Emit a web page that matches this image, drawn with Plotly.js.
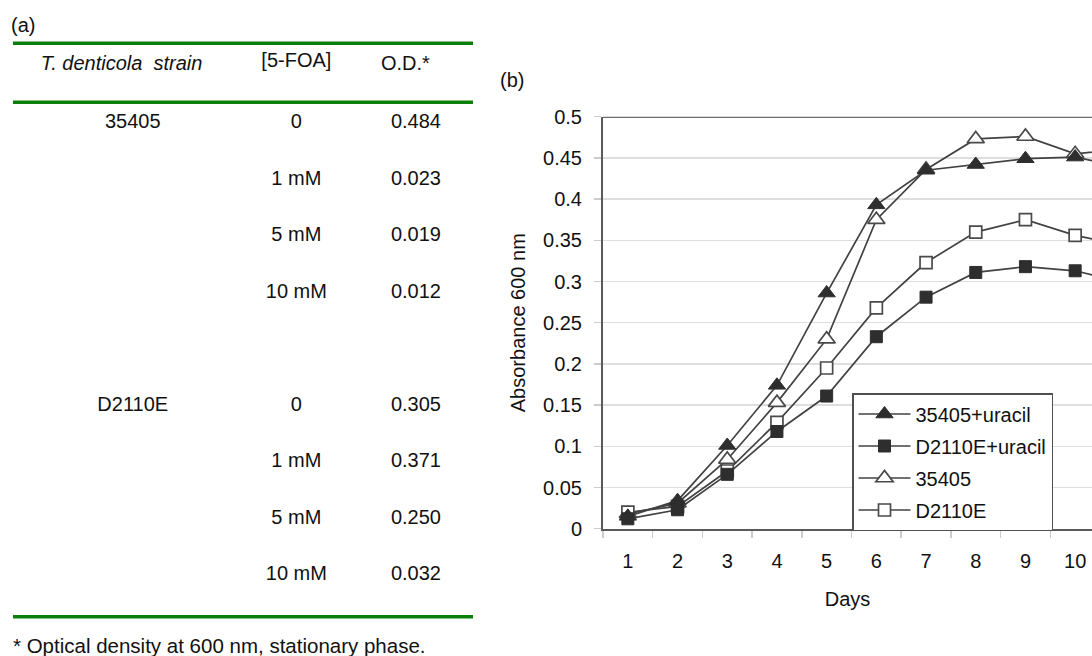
<!DOCTYPE html>
<html>
<head>
<meta charset="utf-8">
<script src="https://cdn.plot.ly/plotly-3.0.1.min.js"></script>
<style>
  html, body { margin: 0; padding: 0; background: #fff; }
  #chart { width: 1092px; height: 656px; }
</style>
</head>
<body>
<div id="chart"></div>
<script>
// ---- Panel (a) table data ----
const tableHeader = ['<i>T. denticola  strain</i>&nbsp;&nbsp;&nbsp;&nbsp;', '[5-FOA]', 'O.D.*&nbsp;&nbsp;'];
const strainCol = ['35405', '', '', '', '', 'D2110E', '', '', ''];
const foaCol = ['0', '1 mM', '5 mM', '10 mM', '', '0', '1 mM', '5 mM', '10 mM'];
const odCol = ['0.484', '0.023', '0.019', '0.012', '', '0.305', '0.371', '0.250', '0.032'];
const footnote = '* Optical density at 600 nm, stationary phase.';

// ---- Panel (b) growth curves ----
const days = [1, 2, 3, 4, 5, 6, 7, 8, 9, 10, 11];
const seriesNames = ['35405+uracil', 'D2110E+uracil', '35405', 'D2110E'];
const uracil35405 = [0.015, 0.034, 0.101, 0.174, 0.286, 0.393, 0.435, 0.442, 0.449, 0.451, 0.438];
const uracilD2110E = [0.012, 0.023, 0.066, 0.118, 0.161, 0.233, 0.281, 0.311, 0.318, 0.313, 0.298];
const plain35405 = [0.018, 0.031, 0.084, 0.153, 0.230, 0.375, 0.436, 0.473, 0.476, 0.455, 0.461];
const plainD2110E = [0.020, 0.027, 0.070, 0.129, 0.195, 0.268, 0.323, 0.360, 0.375, 0.356, 0.343];

const W = 1092, H = 656;
const FONT = 'Liberation Sans, Arial, Helvetica, sans-serif';
const px = v => v / W;
const py = v => 1 - v / H;

const lineColor = '#424242';
const markDark = '#2e2e2e';

function series(name, y, symbol, filled, size, rank) {
  return {
    type: 'scatter', mode: 'lines+markers', name: name,
    x: days.map(String), y: y,
    xaxis: 'x', yaxis: 'y',
    legendrank: rank, legendgroup: 'g' + rank,
    line: { color: lineColor, width: 1.7 },
    marker: {
      symbol: symbol, size: size,
      color: filled ? markDark : '#ffffff',
      line: { color: filled ? markDark : '#4a4a4a', width: filled ? 1 : 1.7 }
    },
    cliponaxis: true
  };
}

const headerH = 61.3, cellH = 56.5;
const tableTop = 44;
const tableBottom = tableTop + headerH + strainCol.length * cellH;

const data = [
  {
    type: 'table',
    domain: { x: [px(13), px(450)], y: [py(tableBottom), py(tableTop)] },
    columnwidth: [240, 88, 109],
    header: {
      values: tableHeader,
      align: ['center', 'center', 'right'],
      height: headerH,
      fill: { color: 'rgba(0,0,0,0)' },
      line: { width: 0, color: 'rgba(0,0,0,0)' },
      font: { family: FONT, size: 20, color: '#111' }
    },
    cells: {
      values: [strainCol, foaCol, odCol],
      align: ['center', 'center', 'right'],
      height: cellH,
      fill: { color: 'rgba(0,0,0,0)' },
      line: { width: 0, color: 'rgba(0,0,0,0)' },
      font: { family: FONT, size: 20, color: '#111' }
    }
  },
  series(seriesNames[2], plain35405, 'triangle-up', false, 15, 3),
  series(seriesNames[3], plainD2110E, 'square', false, 12, 4),
  series(seriesNames[0], uracil35405, 'triangle-up', true, 15, 1),
  series(seriesNames[1], uracilD2110E, 'square', true, 12, 2)
];

const catWidth = 49.7;
const plotLeft = 603, plotRight = 1092;
const nVisible = (plotRight - plotLeft) / catWidth;

const layout = {
  width: W, height: H,
  margin: { l: 0, r: 0, t: 0, b: 0, pad: 0 },
  paper_bgcolor: '#ffffff', plot_bgcolor: '#ffffff',
  font: { family: FONT, size: 20, color: '#111' },
  showlegend: true,
  xaxis: {
    domain: [px(plotLeft), 1],
    type: 'category',
    range: [-0.5, -0.5 + nVisible],
    tickson: 'boundaries',
    ticks: 'outside', ticklen: 7, tickwidth: 1.5, tickcolor: '#cccccc',
    ticklabelstandoff: 13,
    showgrid: false, zeroline: false,
    showline: true, linecolor: '#5a5a5a', linewidth: 2,
    tickfont: { family: FONT, size: 20, color: '#111' },
    title: { text: 'Days', standoff: 21, font: { family: FONT, size: 20, color: '#111' } },
    automargin: false, fixedrange: true
  },
  yaxis: {
    domain: [py(528.7), py(116.7)],
    range: [0, 0.5],
    tick0: 0, dtick: 0.05,
    ticks: 'outside', ticklen: 7, tickwidth: 1.5, tickcolor: '#cccccc',
    ticklabelstandoff: 8,
    showgrid: true, gridcolor: '#dedede', gridwidth: 1.5,
    zeroline: false,
    showline: true, linecolor: '#5a5a5a', linewidth: 2,
    tickfont: { family: FONT, size: 20, color: '#111' },
    title: { text: 'Absorbance 600 nm', standoff: 12, font: { family: FONT, size: 20, color: '#111' } },
    automargin: false, fixedrange: true
  },
  legend: {
    x: px(852), y: py(393), xanchor: 'left', yanchor: 'top',
    bgcolor: '#ffffff', bordercolor: '#505050', borderwidth: 1.5,
    font: { family: FONT, size: 20, color: '#111' },
    tracegroupgap: 3, itemwidth: 52,
    traceorder: 'grouped'
  },
  shapes: [
    { type: 'line', xref: 'paper', yref: 'y', x0: px(plotLeft), x1: 1, y0: 0.5, y1: 0.5,
      line: { color: '#6e6e6e', width: 2.5 } },
    { type: 'line', xref: 'paper', yref: 'paper', x0: px(13), x1: px(473), y0: py(43.3), y1: py(43.3),
      line: { color: '#0a7f0a', width: 3.5 } },
    { type: 'line', xref: 'paper', yref: 'paper', x0: px(13), x1: px(473), y0: py(102.3), y1: py(102.3),
      line: { color: '#0a7f0a', width: 3.5 } },
    { type: 'line', xref: 'paper', yref: 'paper', x0: px(13), x1: px(473), y0: py(616.7), y1: py(616.7),
      line: { color: '#0a7f0a', width: 3.5 } }
  ],
  annotations: [
    { xref: 'paper', yref: 'paper', x: px(9), y: py(25), xanchor: 'left', yanchor: 'middle',
      text: '(a)', showarrow: false, font: { family: FONT, size: 20, color: '#111' } },
    { xref: 'paper', yref: 'paper', x: px(498), y: py(80), xanchor: 'left', yanchor: 'middle',
      text: '(b)', showarrow: false, font: { family: FONT, size: 20, color: '#111' } },
    { xref: 'paper', yref: 'paper', x: px(11), y: py(645), xanchor: 'left', yanchor: 'middle',
      text: footnote, showarrow: false, font: { family: FONT, size: 20.5, color: '#111' } }
  ]
};

Plotly.newPlot('chart', data, layout, { displayModeBar: false, staticPlot: true });
</script>
</body>
</html>
